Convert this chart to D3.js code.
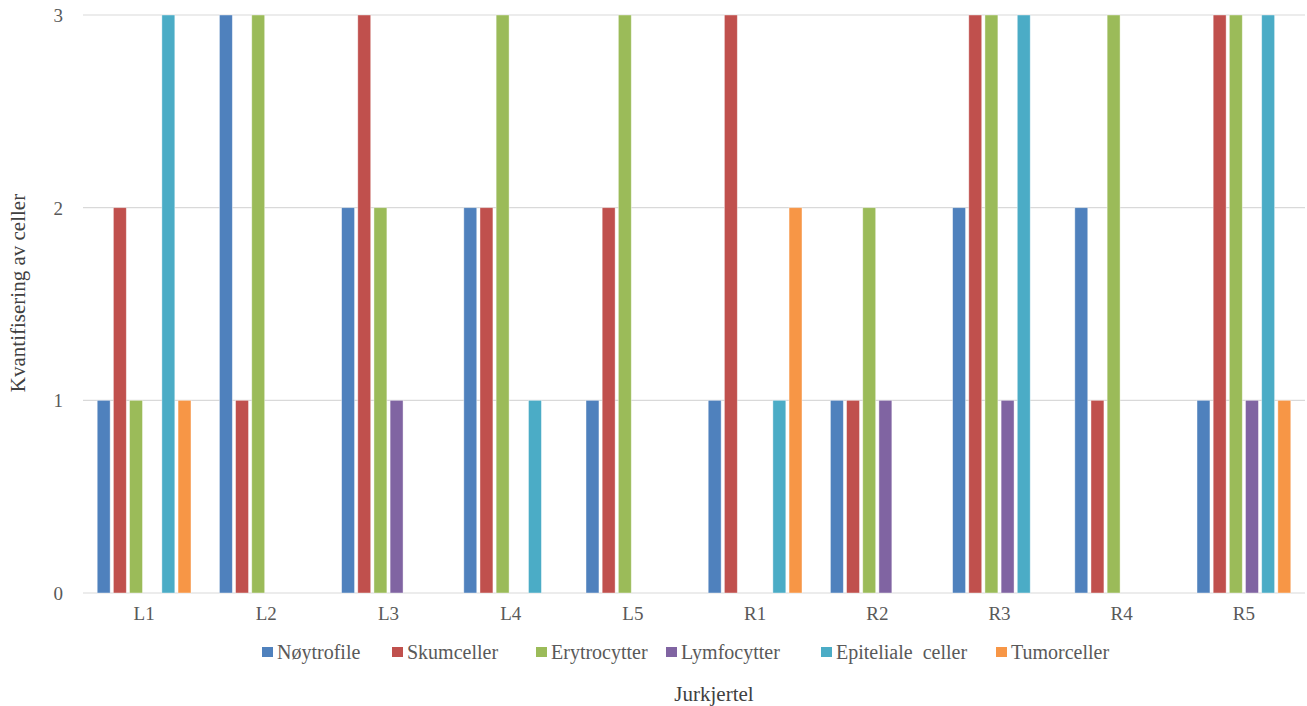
<!DOCTYPE html>
<html>
<head>
<meta charset="utf-8">
<script src="https://cdn.jsdelivr.net/npm/d3@7"></script>
<style>
  html, body { margin: 0; padding: 0; background: #fff; }
  svg { display: block; }
</style>
</head>
<body>
<svg id="chart" width="1307" height="706" font-family="Liberation Serif"></svg>
<script>
// Sample sites (x axis)
const categories = ["L1", "L2", "L3", "L4", "L5", "R1", "R2", "R3", "R4", "R5"];

// Cell types (series)
const seriesNames = ["Nøytrofile", "Skumceller", "Erytrocytter", "Lymfocytter", "Epiteliale  celler", "Tumorceller"];
const seriesColors = ["#4F81BD", "#C0504D", "#9BBB59", "#8064A2", "#4BACC6", "#F79646"];

// Quantification score per site, one array per cell type
const noytrofile   = [1, 3, 2, 2, 1, 1, 1, 2, 2, 1];
const skumceller   = [2, 1, 3, 2, 2, 3, 1, 3, 1, 3];
const erytrocytter = [1, 3, 2, 3, 3, 0, 2, 3, 3, 3];
const lymfocytter  = [0, 0, 1, 0, 0, 0, 1, 1, 0, 1];
const epiteliale   = [3, 0, 0, 1, 0, 1, 0, 3, 0, 3];
const tumorceller  = [1, 0, 0, 0, 0, 2, 0, 0, 0, 1];
const seriesValues = [noytrofile, skumceller, erytrocytter, lymfocytter, epiteliale, tumorceller];

const yTicks = [0, 1, 2, 3];

const FONT = "'Liberation Serif'";
const svg = d3.select("#chart");
const margin = { left: 83, right: 2, top: 15, bottom: 113 };
const W = 1307, H = 706;
const plotW = W - margin.left - margin.right;
const plotH = H - margin.top - margin.bottom;

const g = svg.append("g").attr("transform", `translate(${margin.left},${margin.top})`);

const x0 = d3.scaleBand().domain(categories).range([0, plotW]);
const x1 = d3.scaleBand().domain(d3.range(seriesNames.length))
  .range([x0.bandwidth() / 2 - 48.5, x0.bandwidth() / 2 + 48.5])
  .paddingInner(0.2).paddingOuter(0.1);
const y = d3.scaleLinear().domain([0, 3]).range([plotH, 0]);

// Horizontal gridlines
g.append("g").selectAll("line").data(yTicks).join("line")
  .attr("x1", 0).attr("x2", plotW)
  .attr("y1", d => y(d)).attr("y2", d => y(d))
  .attr("stroke", "#d9d9d9").attr("stroke-width", 1.2);

// Y axis tick labels
const yAxis = d3.axisLeft(y).tickValues(yTicks).tickSize(0).tickPadding(20).tickFormat(d3.format("d"));
g.append("g").call(yAxis)
  .attr("font-family", "Liberation Serif").attr("font-size", 19)
  .call(s => s.select(".domain").remove())
  .call(s => s.selectAll("text")
    .attr("fill", "#595959").attr("dy", "0.35em")
    .style("font-size", "19px").style("font-family", FONT));

// X axis labels
const xAxis = d3.axisBottom(x0).tickSize(0).tickPadding(0);
g.append("g").attr("transform", `translate(0,${plotH})`).call(xAxis)
  .attr("font-family", "Liberation Serif").attr("font-size", 19)
  .call(s => s.select(".domain").remove())
  .call(s => s.selectAll("text")
    .attr("y", 27).attr("dy", 0)
    .attr("fill", "#595959")
    .style("font-size", "19px").style("font-family", FONT));

// Bars
const groups = g.append("g").selectAll("g").data(categories).join("g")
  .attr("transform", d => `translate(${x0(d)},0)`);
groups.selectAll("rect")
  .data((c, ci) => seriesValues.map((vals, si) => ({ si, v: vals[ci] })).filter(d => d.v > 0))
  .join("rect")
  .attr("x", d => x1(d.si))
  .attr("width", x1.bandwidth())
  .attr("y", d => y(d.v))
  .attr("height", d => y(0) - y(d.v))
  .attr("fill", d => seriesColors[d.si])
  .attr("stroke", "#ffffff").attr("stroke-opacity", 0.5).attr("stroke-width", 0.8);

// Legend
const legendX = [262, 392, 536, 666, 821, 996];
const legend = svg.append("g").selectAll("g").data(seriesNames).join("g")
  .attr("transform", (d, i) => `translate(${legendX[i]},652)`);
legend.append("rect").attr("x", 0).attr("y", -5).attr("width", 11).attr("height", 10)
  .attr("fill", (d, i) => seriesColors[i]);
legend.append("text").attr("x", 15).attr("y", 7)
  .attr("xml:space", "preserve").style("white-space", "pre")
  .style("font-size", "20px").style("font-family", FONT)
  .attr("fill", "#595959").text(d => d);

// Axis titles
svg.append("text").attr("x", 714).attr("y", 701).attr("text-anchor", "middle")
  .style("font-size", "21px").style("font-family", FONT)
  .attr("fill", "#404040").text("Jurkjertel");
svg.append("text").attr("transform", "translate(25,293) rotate(-90)").attr("text-anchor", "middle")
  .style("font-size", "21px").style("font-family", FONT)
  .attr("fill", "#404040").text("Kvantifisering av celler");
</script>
</body>
</html>
